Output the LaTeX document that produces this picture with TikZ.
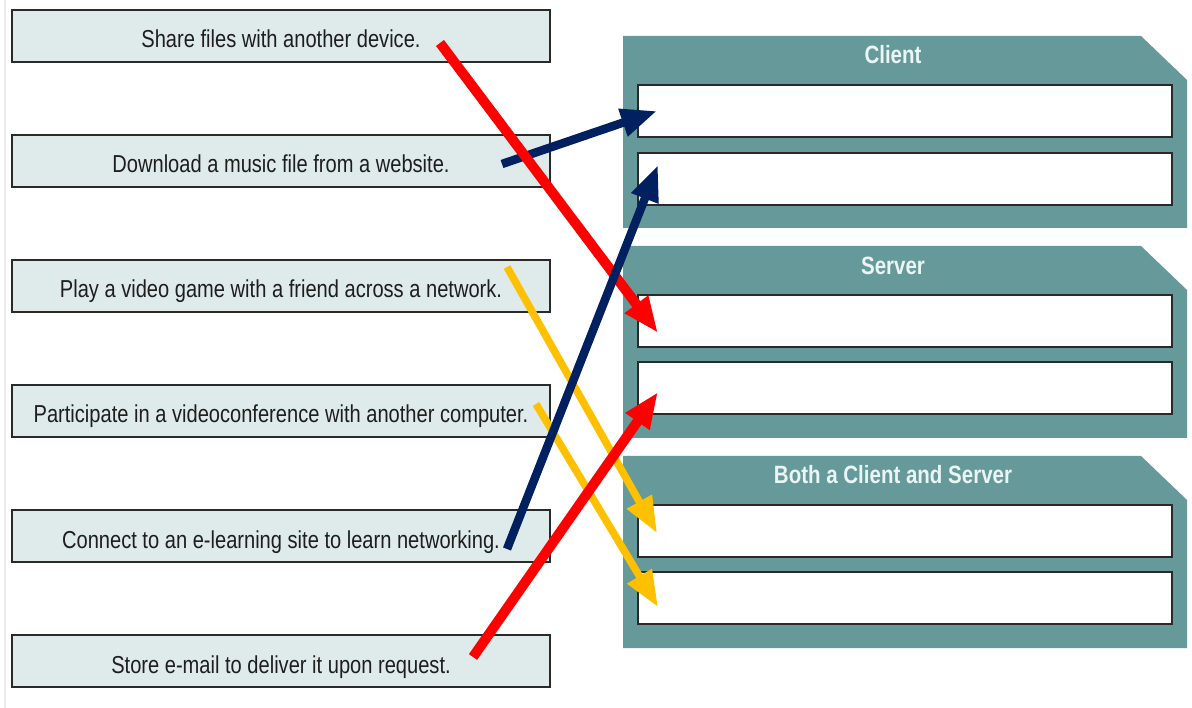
\documentclass[tikz,border=0pt]{standalone}
\usepackage{fontspec}
\setmainfont{Liberation Sans}[FakeStretch=0.82]
\usetikzlibrary{arrows.meta}
\definecolor{panelteal}{HTML}{669999}
\definecolor{boxfill}{HTML}{DFEAEA}
\definecolor{boxborder}{HTML}{2A2A2A}
\definecolor{textdark}{HTML}{1E1E1E}
\definecolor{titletext}{HTML}{EAF5F5}
\definecolor{arrred}{HTML}{FF0000}
\definecolor{arrnavy}{HTML}{002060}
\definecolor{arryellow}{HTML}{FFC000}
\definecolor{faintline}{HTML}{EBEBEB}
\tikzset{
  lbox/.style={draw=boxborder, line width=2pt, fill=boxfill, minimum width=538pt,
    minimum height=52pt, inner sep=0pt, text=textdark, text depth=0pt, text height=24pt,
    font=\fontsize{24.5}{28}\selectfont},
  ibox/.style={draw=boxborder, line width=2pt, fill=white, minimum width=534pt,
    minimum height=52pt, inner sep=0pt},
  ptitle/.style={text=titletext, font=\bfseries\fontsize{25}{29}\selectfont, inner sep=0pt},
  panel/.style={fill=panelteal},
  conn/.style={-{Triangle[length=36pt,width=27pt]}},
  redconn/.style={conn, draw=arrred, fill=arrred, line width=10pt},
  navyconn/.style={conn, draw=arrnavy, fill=arrnavy, line width=8.5pt},
  yelconn/.style={conn, draw=arryellow, fill=arryellow, line width=7.5pt}
}
\begin{document}
\begin{tikzpicture}[x=1pt,y=-1pt]
\useasboundingbox (0,0) rectangle (1192,708);
\fill[white] (0,0) rectangle (1192,708);
\draw[faintline, line width=1.5pt] (5,0) -- (5,708);

% left statements
\node[lbox] (s1) at (281,36)  {Share files with another device.};
\node[lbox] (s2) at (281,161) {Download a music file from a website.};
\node[lbox] (s3) at (281,286) {Play a video game with a friend across a network.};
\node[lbox] (s4) at (281,411) {Participate in a videoconference with another computer.};
\node[lbox] (s5) at (281,536) {Connect to an e-learning site to learn networking.};
\node[lbox] (s6) at (281,661) {Store e-mail to deliver it upon request.};

% panels
\fill[panel] (623,36) -- (1141,36) -- (1187,80) -- (1187,228) -- (623,228) -- cycle;
\node[ptitle] (tc) at (893,55) {Client};
\node[ibox] (c1) at (905,111) {};
\node[ibox] (c2) at (905,179) {};

\fill[panel] (623,246) -- (1141,246) -- (1187,290) -- (1187,438) -- (623,438) -- cycle;
\node[ptitle] (ts) at (893,266) {Server};
\node[ibox] (v1) at (905,321) {};
\node[ibox] (v2) at (905,388) {};

\fill[panel] (623,456) -- (1141,456) -- (1187,500) -- (1187,648) -- (623,648) -- cycle;
\node[ptitle] (tb) at (893,475) {Both a Client and Server};
\node[ibox] (b1) at (905,531) {};
\node[ibox] (b2) at (905,598) {};

% connector ends
\coordinate (r1s) at (440,43);
\coordinate (r1e) at (658,333);
\coordinate (n1s) at (502,164);
\coordinate (n1e) at (657,111);
\coordinate (n2s) at (507,549);
\coordinate (n2e) at (658,165);
\coordinate (y1s) at (507,267);
\coordinate (y1e) at (657,533);
\coordinate (y2s) at (536,404);
\coordinate (y2e) at (658,607);
\coordinate (r2s) at (473,657);
\coordinate (r2e) at (658,392);

\draw[navyconn] (n1s) -- (n1e);
\draw[redconn] (r1s) -- (r1e);
\draw[yelconn] (y1s) -- (y1e);
\draw[yelconn] (y2s) -- (y2e);
\draw[navyconn] (n2s) -- (n2e);
\draw[redconn] (r2s) -- (r2e);
\end{tikzpicture}
\end{document}
